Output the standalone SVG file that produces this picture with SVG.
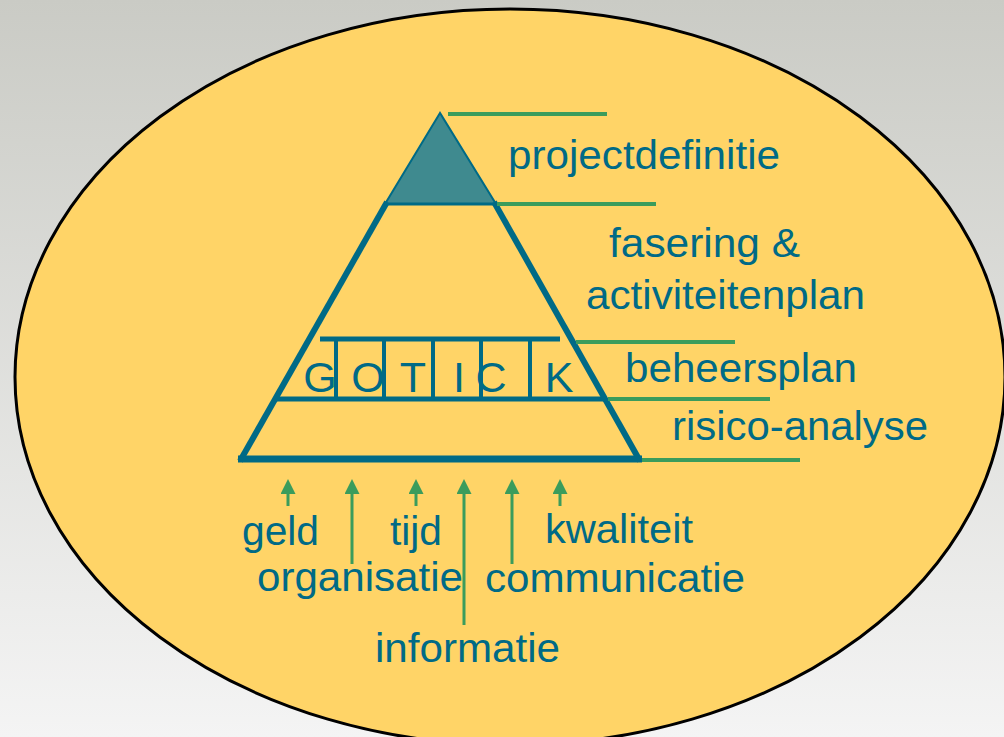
<svg xmlns="http://www.w3.org/2000/svg" width="1004" height="737" viewBox="0 0 1004 737">
<defs>
<linearGradient id="bg" x1="0" y1="0" x2="0" y2="1">
<stop offset="0" stop-color="#CACBC5"/>
<stop offset="1" stop-color="#F4F4F4"/>
</linearGradient>
<marker id="ah" viewBox="0 0 16 16" refX="1" refY="8" markerWidth="16" markerHeight="15" markerUnits="userSpaceOnUse" orient="auto">
<path d="M0,0 L16,8 L0,16 Z" fill="#3B9C5C"/>
</marker>
<style>
.lbl{font-family:"Liberation Sans",Arial,sans-serif;font-size:40px;fill:#006A86;}
.let{font-family:"Liberation Sans",Arial,sans-serif;font-size:43px;fill:#006A86;text-anchor:middle;}
.pyr{stroke:#006A86;fill:none;stroke-linecap:butt;}
.gl{stroke:#3B9C5C;stroke-width:4;fill:none;}
.ar{stroke:#3B9C5C;stroke-width:3;fill:none;marker-end:url(#ah);}
</style>
</defs>
<rect x="0" y="0" width="1004" height="737" fill="url(#bg)"/>
<g id="ellipse">
<ellipse cx="510" cy="377" rx="495" ry="368" fill="#FFD467" stroke="#000" stroke-width="3"/>
</g>
<g id="pyramid">
<polygon points="440,113 385,204 496,204" fill="#3F8A8F" stroke="#006A86" stroke-width="2" stroke-linejoin="miter"/>
<line class="pyr" x1="385" y1="204" x2="496" y2="204" stroke-width="3"/>
<line class="pyr" x1="387" y1="202" x2="240" y2="461" stroke-width="6"/>
<line class="pyr" x1="494" y1="202" x2="640" y2="461" stroke-width="6"/>
<line class="pyr" x1="238" y1="459" x2="642" y2="459" stroke-width="7"/>
</g>
<g id="gotick">
<line class="pyr" x1="320" y1="339" x2="560" y2="339" stroke-width="5"/>
<line class="pyr" x1="275" y1="399" x2="606" y2="399" stroke-width="5"/>
<line class="pyr" x1="336" y1="339" x2="336" y2="399" stroke-width="4"/>
<line class="pyr" x1="384" y1="339" x2="384" y2="399" stroke-width="4"/>
<line class="pyr" x1="433" y1="339" x2="433" y2="399" stroke-width="4"/>
<line class="pyr" x1="481" y1="339" x2="481" y2="399" stroke-width="4"/>
<line class="pyr" x1="530" y1="339" x2="530" y2="399" stroke-width="4"/>
<text class="let" x="320" y="392">G</text>
<text class="let" x="368" y="392">O</text>
<text class="let" x="413" y="392">T</text>
<text class="let" x="459" y="392">I</text>
<text class="let" x="491" y="392">C</text>
<text class="let" x="559" y="392">K</text>
</g>
<g id="connectors">
<line class="gl" x1="448" y1="114" x2="607" y2="114"/>
<line class="gl" x1="497" y1="204" x2="656" y2="204"/>
<line class="gl" x1="576" y1="342" x2="735" y2="342"/>
<line class="gl" x1="608" y1="399" x2="770" y2="399"/>
<line class="gl" x1="642" y1="460" x2="800" y2="460"/>
<line class="ar" x1="288" y1="506" x2="288" y2="493"/>
<line class="ar" x1="352" y1="564" x2="352" y2="493"/>
<line class="ar" x1="416" y1="506" x2="416" y2="493"/>
<line class="ar" x1="464" y1="625" x2="464" y2="493"/>
<line class="ar" x1="512" y1="564" x2="512" y2="493"/>
<line class="ar" x1="560" y1="506" x2="560" y2="493"/>
</g>
<g id="label-projectdefinitie"><text class="lbl" x="508" y="169" textLength="272" lengthAdjust="spacingAndGlyphs">projectdefinitie</text></g>
<g id="label-fasering">
<text class="lbl" x="609" y="257" textLength="191" lengthAdjust="spacingAndGlyphs">fasering &amp;</text>
<text class="lbl" x="586" y="309" textLength="279" lengthAdjust="spacingAndGlyphs">activiteitenplan</text>
</g>
<g id="label-beheersplan"><text class="lbl" x="625" y="382" textLength="232" lengthAdjust="spacingAndGlyphs">beheersplan</text></g>
<g id="label-risico"><text class="lbl" x="672" y="440" textLength="256" lengthAdjust="spacingAndGlyphs">risico-analyse</text></g>
<g id="label-geld"><text class="lbl" x="242" y="545" textLength="77" lengthAdjust="spacingAndGlyphs">geld</text></g>
<g id="label-tijd"><text class="lbl" x="390" y="545" textLength="52" lengthAdjust="spacingAndGlyphs">tijd</text></g>
<g id="label-kwaliteit"><text class="lbl" x="545" y="543" textLength="148" lengthAdjust="spacingAndGlyphs">kwaliteit</text></g>
<g id="label-organisatie"><text class="lbl" x="257" y="591" textLength="206" lengthAdjust="spacingAndGlyphs">organisatie</text></g>
<g id="label-communicatie"><text class="lbl" x="485" y="592" textLength="260" lengthAdjust="spacingAndGlyphs">communicatie</text></g>
<g id="label-informatie"><text class="lbl" x="375" y="662" textLength="185" lengthAdjust="spacingAndGlyphs">informatie</text></g>
</svg>
